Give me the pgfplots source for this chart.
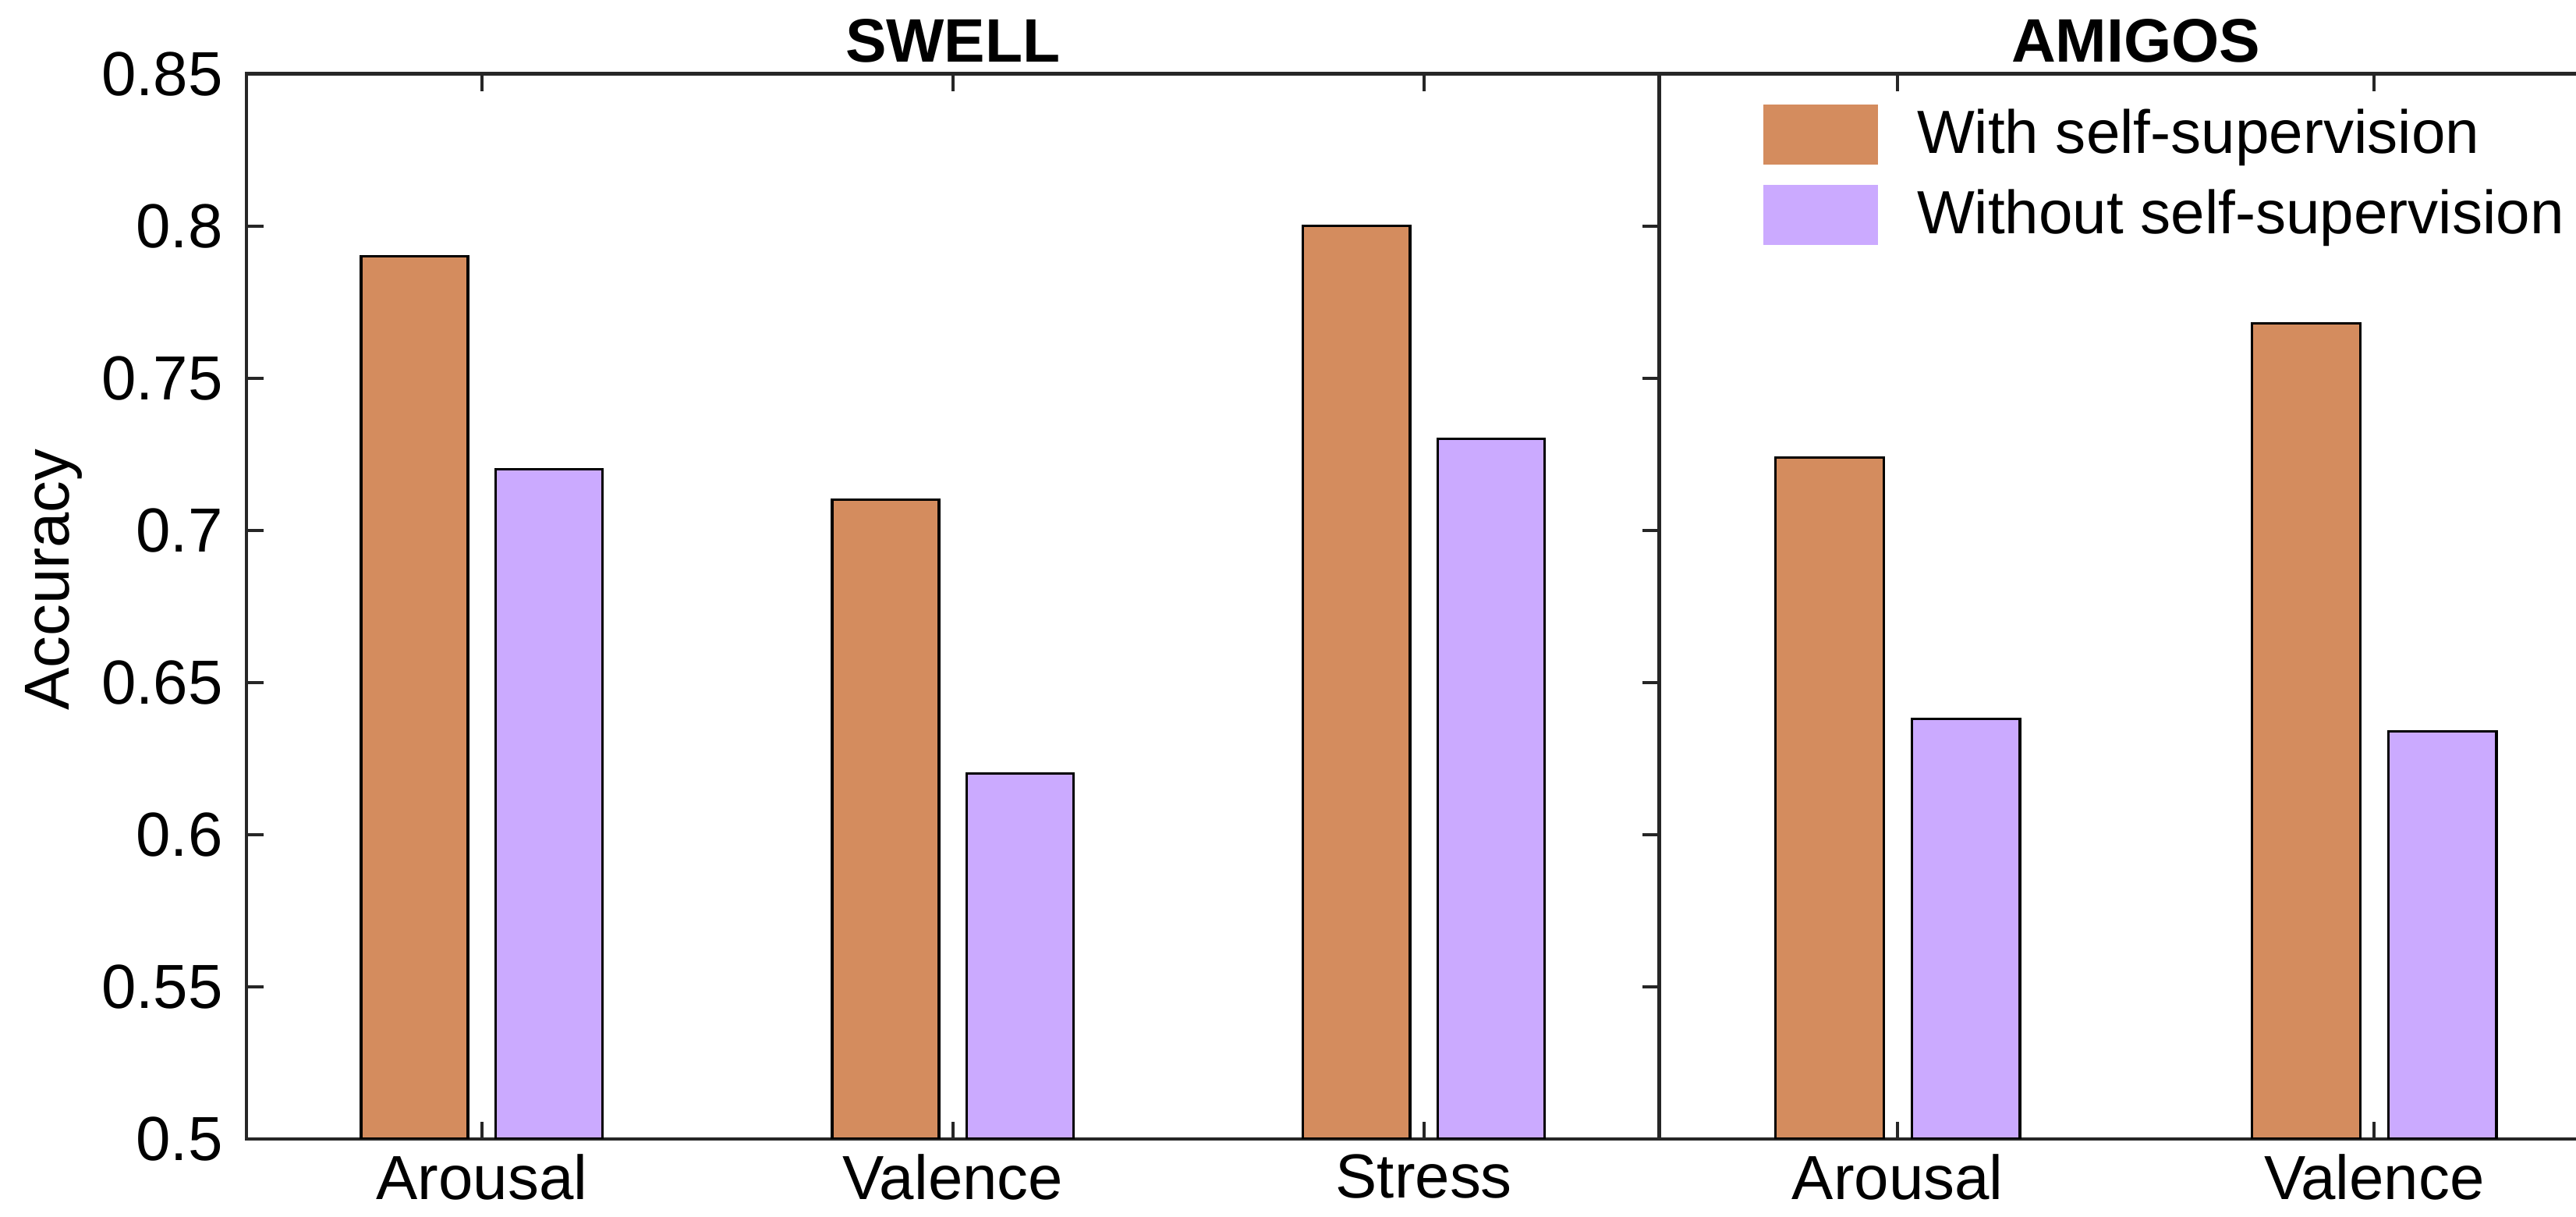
\documentclass[border=0pt]{standalone}
\usepackage{pgfplots}
\pgfplotsset{compat=1.18}
\usepackage{fontspec}
\setmainfont{Liberation Sans}
\definecolor{cWith}{RGB}{212,140,94}
\definecolor{cWithout}{RGB}{203,170,255}
\definecolor{axgray}{RGB}{38,38,38}
\pgfplotsset{
  mybase/.style={
    scale only axis,
    ymin=0.5, ymax=0.85,
    tick align=inside,
    major tick length=4pt,
    axis line style={axgray, line width=0.8pt},
    every tick/.style={axgray, line width=0.8pt},
    font=\fontsize{14.5}{17}\selectfont,
    /pgf/number format/assume math mode=true,
    xticklabel pos=lower,
    title style={font=\fontsize{14.3}{17}\selectfont\bfseries, at={(0.5,1)}, anchor=base, yshift=-3.3pt},
    clip=true,
  },
  barW/.style={ybar, bar width=0.227, bar shift=-0.143, fill=cWith, draw=black, line width=0.6pt},
  barWO/.style={ybar, bar width=0.227, bar shift=0.143, fill=cWithout, draw=black, line width=0.6pt},
}
\begin{document}
\begin{tikzpicture}
\useasboundingbox (0,0) rectangle (600pt,283.2pt);
\begin{axis}[mybase,
  at={(57.4pt,18pt)}, anchor=south west,
  width=329.1pt, height=248pt,
  xmin=0.5, xmax=3.5,
  xtick={1,2,3}, xticklabels={Arousal,Valence,Stress},
  ytick={0.5,0.55,0.6,0.65,0.7,0.75,0.8,0.85},
  yticklabels={0.5,0.55,0.6,0.65,0.7,0.75,0.8,0.85},
  yticklabel style={xshift=-2pt},
  ytick pos=both, yticklabel pos=left,
  xtick pos=both,
  title={SWELL},
  ylabel={Accuracy},
  ylabel style={at={(axis description cs:-0.1361,0.525)}, anchor=center, font=\fontsize{14.8}{17}\selectfont},
]
\addplot[barW] coordinates {(1,0.79) (2,0.71) (3,0.80)};
\addplot[barWO] coordinates {(1,0.72) (2,0.62) (3,0.73)};
\end{axis}
\begin{axis}[mybase,
  at={(386.5pt,18pt)}, anchor=south west,
  width=222pt, height=248pt,
  xmin=0.5, xmax=2.5,
  xtick={1,2}, xticklabels={Arousal,Valence},
  ytick=\empty,
  xtick pos=both,
  title={AMIGOS},
  legend style={draw=none, fill=none,
    at={(axis description cs:0,1)}, anchor=north west, xshift=24pt, yshift=-6pt,
    font=\fontsize{14.2}{17}\selectfont, row sep=3pt, inner sep=0pt},
  legend cell align=left,
  legend image code/.code={\path[#1, draw=none] (0pt,-7pt) rectangle (26.8pt,7pt);},
  /tikz/every odd column/.append style={column sep=7pt},
]
\addplot[barW] coordinates {(1,0.724) (2,0.768)};
\addplot[barWO] coordinates {(1,0.638) (2,0.634)};
\legend{With self-supervision, Without self-supervision}
\end{axis}
\end{tikzpicture}
\end{document}
